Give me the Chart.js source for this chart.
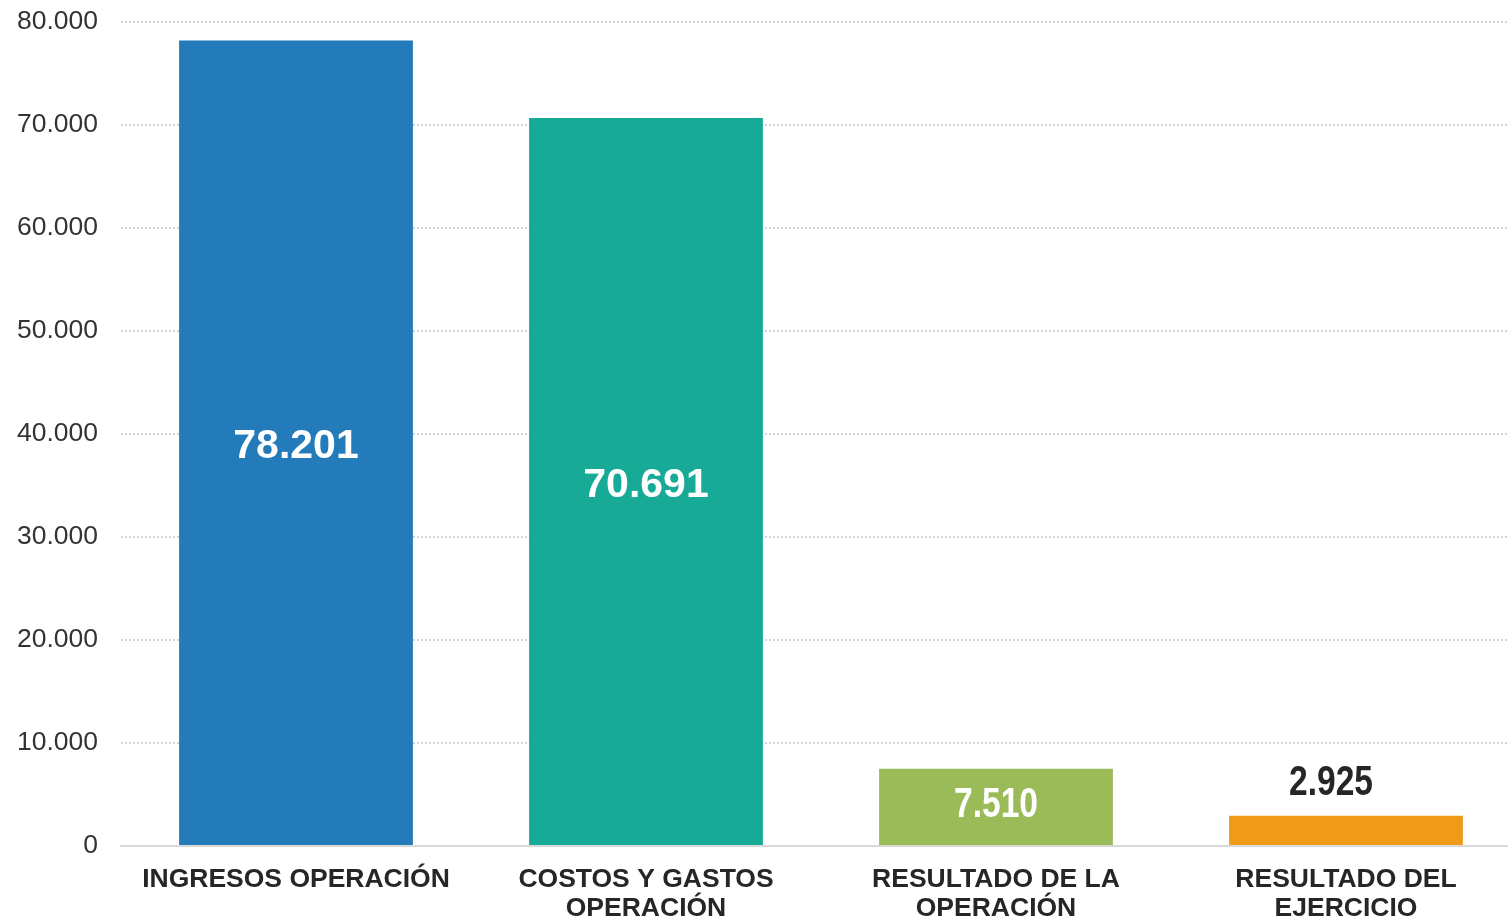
<!DOCTYPE html>
<html>
<head>
<meta charset="utf-8">
<script src="https://cdn.jsdelivr.net/npm/chart.js@4.4.0/dist/chart.umd.min.js"></script>
<style>
  html, body { margin: 0; padding: 0; background: #fff; overflow: hidden; }
  #wrap { width: 1508px; height: 919px; overflow: hidden; }
</style>
</head>
<body>
<div id="wrap"><canvas id="chart" width="1521" height="940"></canvas></div>
<script>
const categories = [
    'INGRESOS OPERACIÓN',
    ['COSTOS Y GASTOS', 'OPERACIÓN'],
    ['RESULTADO DE LA', 'OPERACIÓN'],
    ['RESULTADO DEL', 'EJERCICIO']
];
const values = [78201, 70691, 7510, 2925];
const barColors = ['#237bba', '#17aa97', '#9bbb59', '#f09a1a'];
const yTicks = [0, 10000, 20000, 30000, 40000, 50000, 60000, 70000, 80000];

function fmt(v) {
    return v.toString().replace(/\B(?=(\d{3})+(?!\d))/g, '.');
}

// draws the value over each bar, inside if it fits
const valueLabels = {
    id: 'valueLabels',
    afterDatasetsDraw(chart) {
        const ctx = chart.ctx;
        const meta = chart.getDatasetMeta(0);
        meta.data.forEach((bar, i) => {
            const h = bar.base - bar.y;
            const narrow = h < 150;
            let x = bar.x, y;
            ctx.save();
            ctx.textAlign = 'center';
            ctx.textBaseline = 'middle';
            ctx.font = narrow
                ? 'bold 43px "Liberation Sans", Arial, sans-serif'
                : 'bold 41px "Liberation Sans", Arial, sans-serif';
            if (h > 60) {
                ctx.fillStyle = '#ffffff';
                y = (bar.y + bar.base) / 2 + (narrow ? -2 : 4);
            } else {
                ctx.fillStyle = '#262626';
                x = bar.x - 15;
                y = bar.y - 33;
            }
            ctx.translate(x, y);
            if (narrow) ctx.scale(0.78, 1);
            ctx.fillText(fmt(values[i]), 0, 0);
            ctx.restore();
        });
    }
};

const ctx = document.getElementById('chart').getContext('2d');
const chart = new Chart(ctx, {
    type: 'bar',
    data: {
        labels: categories,
        datasets: [{
            data: values,
            backgroundColor: barColors,
            borderWidth: 0,
            categoryPercentage: 1,
            barPercentage: 0.668
        }]
    },
    options: {
        responsive: false,
        animation: false,
        layout: { padding: { top: 22, right: 0, left: 0, bottom: 0 } },
        plugins: {
            legend: { display: false },
            tooltip: { enabled: false }
        },
        scales: {
            x: {
                grid: { display: false, drawTicks: false },
                border: { display: true, color: '#d9d9d9', width: 2 },
                ticks: {
                    color: '#262626',
                    padding: 19,
                    maxRotation: 0,
                    autoSkip: false,
                    font: { family: '"Liberation Sans", Arial, sans-serif', size: 26.5, weight: 'bold', lineHeight: 1.1 }
                },
                afterFit: s => { s.height = 94; s.paddingLeft = 0; s.paddingRight = 0; }
            },
            y: {
                min: 0,
                max: 80000,
                afterBuildTicks: s => { s.ticks = yTicks.map(v => ({ value: v })); },
                grid: {
                    drawTicks: false,
                    color: c => c.tick && c.tick.value === 0 ? 'rgba(0,0,0,0)' : '#d4d4d4',
                    lineWidth: 2
                },
                border: { display: false, dash: [2, 2] },
                ticks: {
                    color: '#333333',
                    padding: 23,
                    font: { family: '"Liberation Sans", Arial, sans-serif', size: 26.5 },
                    callback: v => fmt(v)
                },
                afterFit: s => { s.width = 121; s.paddingTop = 0; s.paddingBottom = 0; }
            }
        }
    },
    plugins: [valueLabels]
});
</script>
</body>
</html>
